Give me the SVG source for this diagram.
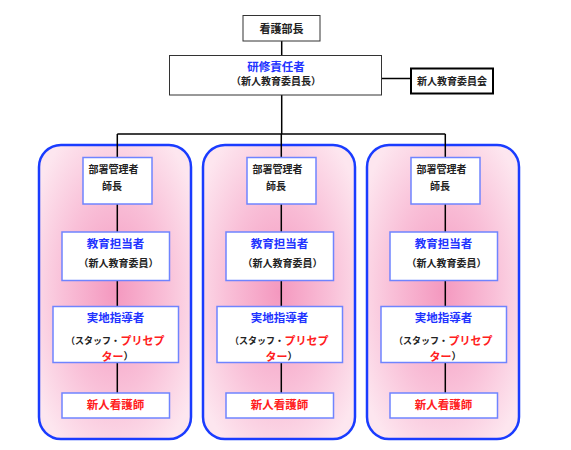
<svg xmlns="http://www.w3.org/2000/svg" width="571" height="450" viewBox="0 0 571 450">
<defs>
<radialGradient id="pink" cx="0.5" cy="0.5" r="0.62">
<stop offset="0" stop-color="#f498bf"/>
<stop offset="0.55" stop-color="#f9c0d8"/>
<stop offset="1" stop-color="#fde6ef"/>
</radialGradient>
<style>
text{font-family:"Noto Sans CJK JP","Liberation Sans",sans-serif;text-anchor:middle;dominant-baseline:central;font-weight:bold}
.top{fill:#fff;stroke:#333;stroke-width:1}
.sub{fill:#fff;stroke:#6f84ff;stroke-width:1.5}
.panel{fill:url(#pink);stroke:#1a3cff;stroke-width:2.5}
.k{fill:#222;font-size:10px}
.ks{fill:#222;font-size:9px}
.kb{fill:#222;font-size:11px}
.b{fill:#2233ff;font-size:11.5px}
.r{fill:#ff2020;font-size:11.5px}
.rs{fill:#ff2020;font-size:11px}
.st{text-anchor:start}
#connectors line{stroke:#000;stroke-width:1.5}
</style>
</defs>
<g id="panels">
<rect id="panel1" class="panel" x="39" y="145" width="152" height="294" rx="22"/>
<rect id="panel2" class="panel" x="203" y="145" width="152" height="294" rx="22"/>
<rect id="panel3" class="panel" x="367" y="145" width="152" height="294" rx="22"/>
</g>
<g id="connectors">
<line x1="281.7" y1="41" x2="281.7" y2="55"/>
<line x1="382" y1="78.5" x2="411" y2="78.5"/>
<line x1="281.7" y1="95" x2="281.7" y2="134"/>
<line x1="117.3" y1="134" x2="445.3" y2="134"/>
<line x1="117.3" y1="134" x2="117.3" y2="393"/>
<line x1="281.3" y1="134" x2="281.3" y2="393"/>
<line x1="445.3" y1="134" x2="445.3" y2="393"/>
</g>
<g id="kangobucho">
<rect class="top" x="243" y="15.5" width="77" height="25.5"/>
<text class="kb" x="281.5" y="27.5">看護部長</text>
</g>
<g id="kenshu">
<rect class="top" x="169.5" y="55.5" width="212" height="39.5"/>
<text class="b" x="276" y="66">研修責任者</text>
<text class="k" x="276" y="80">（新人教育委員長）</text>
</g>
<g id="iinkai">
<rect x="411" y="68.5" width="82" height="25" fill="#fff" stroke="#000" stroke-width="2"/>
<text class="k" x="452" y="80">新人教育委員会</text>
</g>
<g id="unit1">
<g id="bucho1">
<rect class="sub" x="83" y="157.5" width="69" height="46.5"/>
<text class="k" x="113.5" y="168">部署管理者</text>
<text class="k" x="112" y="185">師長</text>
</g>
<g id="kyoiku1">
<rect class="sub" x="62" y="232" width="107.5" height="48.5"/>
<text class="b" x="115.5" y="243">教育担当者</text>
<text class="k" x="118.5" y="262">（新人教育委員）</text>
</g>
<g id="jitchi1">
<rect class="sub" x="53" y="306.5" width="125.5" height="56"/>
<text class="b" x="115.5" y="317">実地指導者</text>
<text class="ks st" x="66" y="340.5">（スタッフ・</text>
<text class="rs st" x="120.5" y="340">プリセプ</text>
<text class="rs st" x="101.5" y="355.5">ター</text>
<text class="k st" x="123.5" y="355.5">）</text>
</g>
<g id="shinjin1">
<rect class="sub" x="62" y="393" width="107.5" height="25"/>
<text class="r" x="115.5" y="404">新人看護師</text>
</g>
</g>
<g id="unit2" transform="translate(164,0)">
<g id="bucho2">
<rect class="sub" x="83" y="157.5" width="69" height="46.5"/>
<text class="k" x="113.5" y="168">部署管理者</text>
<text class="k" x="112" y="185">師長</text>
</g>
<g id="kyoiku2">
<rect class="sub" x="62" y="232" width="107.5" height="48.5"/>
<text class="b" x="115.5" y="243">教育担当者</text>
<text class="k" x="118.5" y="262">（新人教育委員）</text>
</g>
<g id="jitchi2">
<rect class="sub" x="53" y="306.5" width="125.5" height="56"/>
<text class="b" x="115.5" y="317">実地指導者</text>
<text class="ks st" x="66" y="340.5">（スタッフ・</text>
<text class="rs st" x="120.5" y="340">プリセプ</text>
<text class="rs st" x="101.5" y="355.5">ター</text>
<text class="k st" x="123.5" y="355.5">）</text>
</g>
<g id="shinjin2">
<rect class="sub" x="62" y="393" width="107.5" height="25"/>
<text class="r" x="115.5" y="404">新人看護師</text>
</g>
</g>
<g id="unit3" transform="translate(328,0)">
<g id="bucho3">
<rect class="sub" x="83" y="157.5" width="69" height="46.5"/>
<text class="k" x="113.5" y="168">部署管理者</text>
<text class="k" x="112" y="185">師長</text>
</g>
<g id="kyoiku3">
<rect class="sub" x="62" y="232" width="107.5" height="48.5"/>
<text class="b" x="115.5" y="243">教育担当者</text>
<text class="k" x="118.5" y="262">（新人教育委員）</text>
</g>
<g id="jitchi3">
<rect class="sub" x="53" y="306.5" width="125.5" height="56"/>
<text class="b" x="115.5" y="317">実地指導者</text>
<text class="ks st" x="66" y="340.5">（スタッフ・</text>
<text class="rs st" x="120.5" y="340">プリセプ</text>
<text class="rs st" x="101.5" y="355.5">ター</text>
<text class="k st" x="123.5" y="355.5">）</text>
</g>
<g id="shinjin3">
<rect class="sub" x="62" y="393" width="107.5" height="25"/>
<text class="r" x="115.5" y="404">新人看護師</text>
</g>
</g>
</svg>
